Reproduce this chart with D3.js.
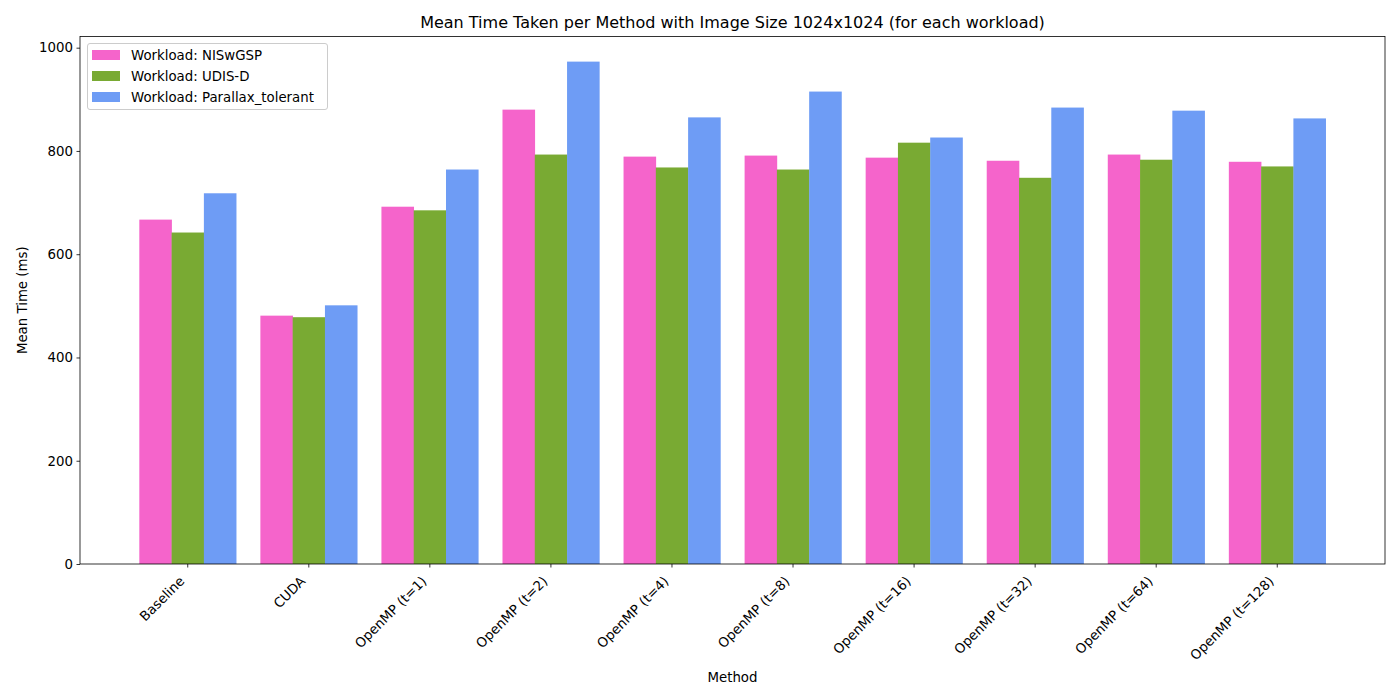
<!DOCTYPE html>
<html>
<head>
<meta charset="utf-8">
<script src="https://cdn.jsdelivr.net/npm/d3@7"></script>
<style>
  body { margin: 0; background: #fff; }
  text { font-family: "DejaVu Sans", sans-serif; fill: #000; }
</style>
</head>
<body>
<svg id="chart" width="1400" height="700"></svg>
<script>
// method names on the x axis
const methods = ["Baseline", "CUDA", "OpenMP (t=1)", "OpenMP (t=2)", "OpenMP (t=4)",
  "OpenMP (t=8)", "OpenMP (t=16)", "OpenMP (t=32)", "OpenMP (t=64)", "OpenMP (t=128)"];

// workload names (legend)
const workloads = ["Workload: NISwGSP", "Workload: UDIS-D", "Workload: Parallax_tolerant"];

// mean time (ms) per method, one array per workload
const nisw = [667, 481, 692, 880, 789, 791, 787, 781, 793, 779];
const udis = [642, 478, 685, 793, 768, 764, 816, 748, 783, 770];
const parallax = [718, 501, 764, 973, 865, 915, 826, 884, 878, 863];

const yTicks = [0, 200, 400, 600, 800, 1000];
const colors = ["#f564cb", "#79aa33", "#6e9cf5"];
const series = [nisw, udis, parallax];

const margin = {left: 80, right: 15, top: 36.5, bottom: 136};
const W = 1400, H = 700;
const svg = d3.select("#chart");

// index based x scale, like matplotlib bar positions with 5% margins
const barW = 0.8 / 3;
const lo = -0.4, hi = methods.length - 1 + 0.4;
const pad = (hi - lo) * 0.05;
const x = d3.scaleLinear()
  .domain([lo - pad, hi + pad])
  .range([margin.left, W - margin.right]);

const y = d3.scaleLinear()
  .domain([0, d3.max(parallax) * 1.05])
  .range([H - margin.bottom, margin.top]);

// bars
series.forEach((vals, s) => {
  svg.append("g").selectAll("rect")
    .data(vals)
    .join("rect")
    .attr("x", (d, i) => x(i + (s - 1) * barW - barW / 2))
    .attr("width", x(barW) - x(0) + 0.3)
    .attr("y", d => y(d))
    .attr("height", d => y(0) - y(d))
    .attr("fill", colors[s]);
});

// y axis
const yAxis = svg.append("g")
  .attr("transform", `translate(${margin.left},0)`)
  .call(d3.axisLeft(y).tickValues(yTicks).tickFormat(d3.format("d")).tickSize(3.5).tickPadding(3.5));
yAxis.select(".domain").remove();
yAxis.selectAll("line").attr("stroke", "#000").attr("stroke-width", 0.8);
yAxis.selectAll("text").style("font-size", "13.33px").style("font-family", "DejaVu Sans");

// x axis ticks and rotated labels
const xg = svg.append("g").attr("transform", `translate(0,${H - margin.bottom})`);
xg.selectAll("line")
  .data(methods)
  .join("line")
  .attr("x1", (d, i) => x(i)).attr("x2", (d, i) => x(i))
  .attr("y1", 0).attr("y2", 3.5)
  .attr("stroke", "#000").attr("stroke-width", 0.8);
xg.selectAll("text")
  .data(methods)
  .join("text")
  .attr("text-anchor", "end")
  .attr("transform", (d, i) => `translate(${x(i) - 2.5},${18})rotate(-45)`)
  .style("font-size", "13.33px")
  .text(d => d);

// frame
svg.append("rect")
  .attr("x", margin.left).attr("y", margin.top)
  .attr("width", W - margin.left - margin.right)
  .attr("height", H - margin.top - margin.bottom)
  .attr("fill", "none").attr("stroke", "#000").attr("stroke-width", 0.8);

// titles
svg.append("text")
  .attr("x", (margin.left + W - margin.right) / 2).attr("y", 28)
  .attr("text-anchor", "middle").style("font-size", "16px")
  .text("Mean Time Taken per Method with Image Size 1024x1024 (for each workload)");
svg.append("text")
  .attr("x", (margin.left + W - margin.right) / 2).attr("y", 682)
  .attr("text-anchor", "middle").style("font-size", "13.33px")
  .text("Method");
svg.append("text")
  .attr("transform", `translate(27,${(margin.top + H - margin.bottom) / 2})rotate(-90)`)
  .attr("text-anchor", "middle").style("font-size", "13.33px")
  .text("Mean Time (ms)");

// legend
const lg = svg.append("g").attr("transform", `translate(87.5,43.5)`);
lg.append("rect")
  .attr("width", 240).attr("height", 66).attr("rx", 2.5)
  .attr("fill", "#fff").attr("fill-opacity", 0.8)
  .attr("stroke", "#cccccc").attr("stroke-width", 1);
workloads.forEach((name, k) => {
  const cy = 11.5 + k * 21;
  lg.append("rect")
    .attr("x", 4.5).attr("y", cy - 5).attr("width", 28).attr("height", 10)
    .attr("fill", colors[k]);
  lg.append("text")
    .attr("x", 43.5).attr("y", cy + 4.8)
    .style("font-size", "13.33px")
    .text(name);
});
</script>
</body>
</html>
